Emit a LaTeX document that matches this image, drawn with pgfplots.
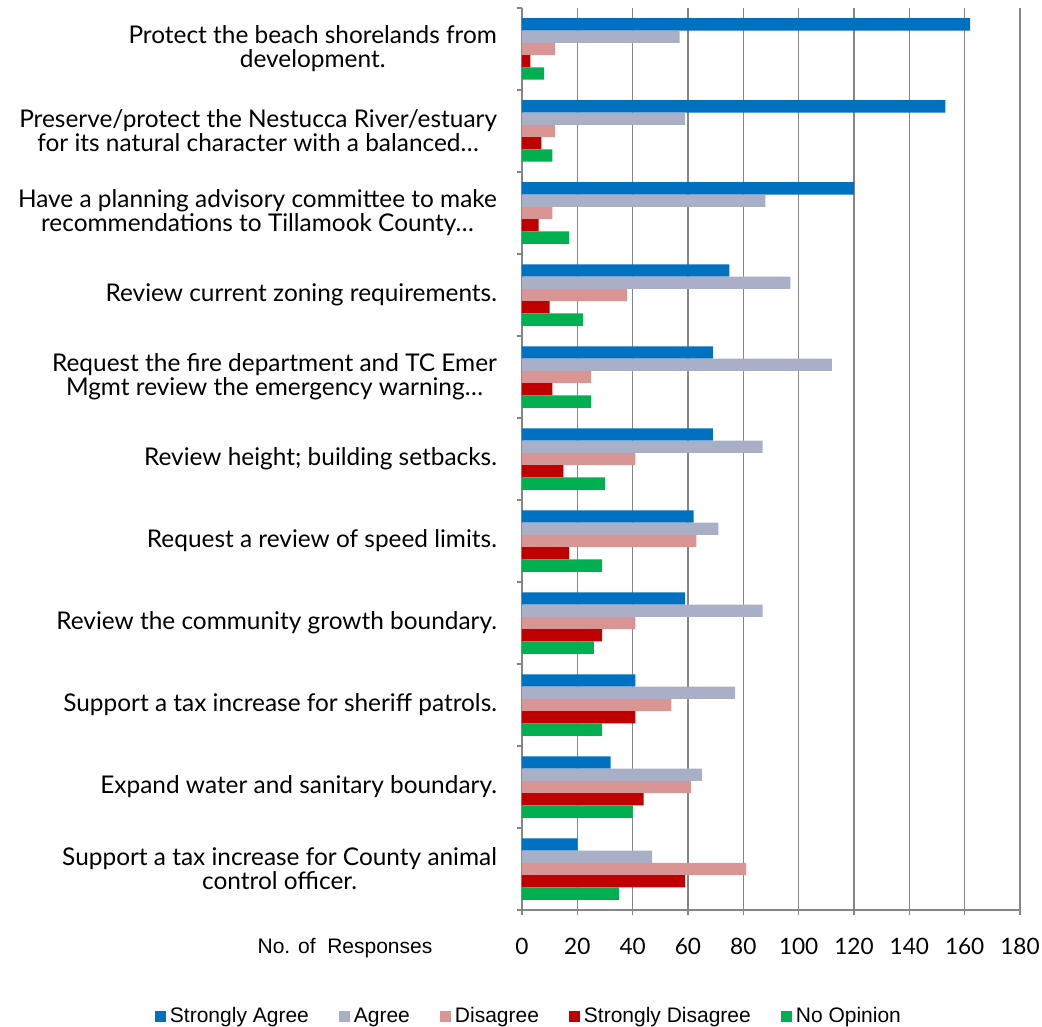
\documentclass[border=0pt]{standalone}
\usepackage{pgfplots}
\pgfplotsset{compat=1.18}
\usepackage{fontspec}
\setmainfont{Lato}
\newfontfamily\arial{Liberation Sans}
\definecolor{csa}{HTML}{0070C0}
\definecolor{cag}{HTML}{AAAFC8}
\definecolor{cdi}{HTML}{D99594}
\definecolor{csd}{HTML}{C00000}
\definecolor{cno}{HTML}{00B050}
\definecolor{gridc}{HTML}{868686}
\begin{document}
\begin{tikzpicture}
\useasboundingbox (-261pt,-58pt) rectangle (260pt,455pt);
\begin{axis}[
  at={(0,0)}, anchor=south west,
  scale only axis, width=249pt, height=451pt,
  xbar, bar width=0.15,
  xmin=0, xmax=180, xtick={0,20,...,180},
  ymin=-0.5, ymax=10.5, y dir=reverse,
  ytick={0,...,10},
  minor ytick={-0.5,0.5,...,10.5},
  yticklabels={
    {Protect the beach shorelands from\\development.},
    {Preserve/protect the Nestucca River/estuary\\for its natural character with a balanced\ldots},
    {Have a planning advisory committee to make\\recommendations to Tillamook County\ldots},
    {Review current zoning requirements.},
    {Request the fire department and TC Emer\\Mgmt review the emergency warning\ldots},
    {Review height; building setbacks.},
    {Request a review of speed limits.},
    {Review the community growth boundary.},
    {Support a tax increase for sheriff patrols.},
    {Expand water and sanitary boundary.},
    {Support a tax increase for County animal\\control officer.}
  },
  yticklabel style={align=center, font=\fontsize{12.2}{12}\selectfont, xshift=-6.5pt},
  xticklabel style={font=\fontsize{11.3}{12}\selectfont, yshift=-8pt},
  /pgf/number format/assume math mode=true,
  axis x line*=bottom, axis y line*=left,
  axis line style={gridc, line width=0.8pt, -},
  xmajorgrids, grid style={gridc, line width=0.8pt},
  major y tick style={draw=none},
  minor y tick style={gridc, line width=0.8pt},
  major x tick style={gridc, line width=0.8pt},
  tick align=outside, major tick length=2.5pt, minor tick length=2.5pt,
  legend columns=5,
  legend style={at={(0.016,-0.118)}, anchor=center, draw=none, fill=none,
    font=\arial\fontsize{10.5}{12}\selectfont,
    /tikz/every even column/.append style={column sep=13pt}},
  legend image code/.code={\fill[#1] (0pt,-2.75pt) rectangle (5.5pt,2.75pt);},
  clip=false,
]
\addplot[fill=csa, draw=none, bar shift=-0.3] coordinates {
(162,0) (153,1) (120,2) (75,3) (69,4) (69,5) (62,6) (59,7) (41,8) (32,9) (20,10)};
\addplot[fill=cag, draw=none, bar shift=-0.15] coordinates {
(57,0) (59,1) (88,2) (97,3) (112,4) (87,5) (71,6) (87,7) (77,8) (65,9) (47,10)};
\addplot[fill=cdi, draw=none, bar shift=0] coordinates {
(12,0) (12,1) (11,2) (38,3) (25,4) (41,5) (63,6) (41,7) (54,8) (61,9) (81,10)};
\addplot[fill=csd, draw=none, bar shift=0.15] coordinates {
(3,0) (7,1) (6,2) (10,3) (11,4) (15,5) (17,6) (29,7) (41,8) (44,9) (59,10)};
\addplot[fill=cno, draw=none, bar shift=0.3] coordinates {
(8,0) (11,1) (17,2) (22,3) (25,4) (30,5) (29,6) (26,7) (29,8) (40,9) (35,10)};
\legend{Strongly Agree, Agree, Disagree, Strongly Disagree, No Opinion}
\end{axis}
\node[font=\arial\fontsize{10.5}{12}\selectfont] at (-88.5pt,-19pt) {No. of\ \ Responses};
\end{tikzpicture}
\end{document}
